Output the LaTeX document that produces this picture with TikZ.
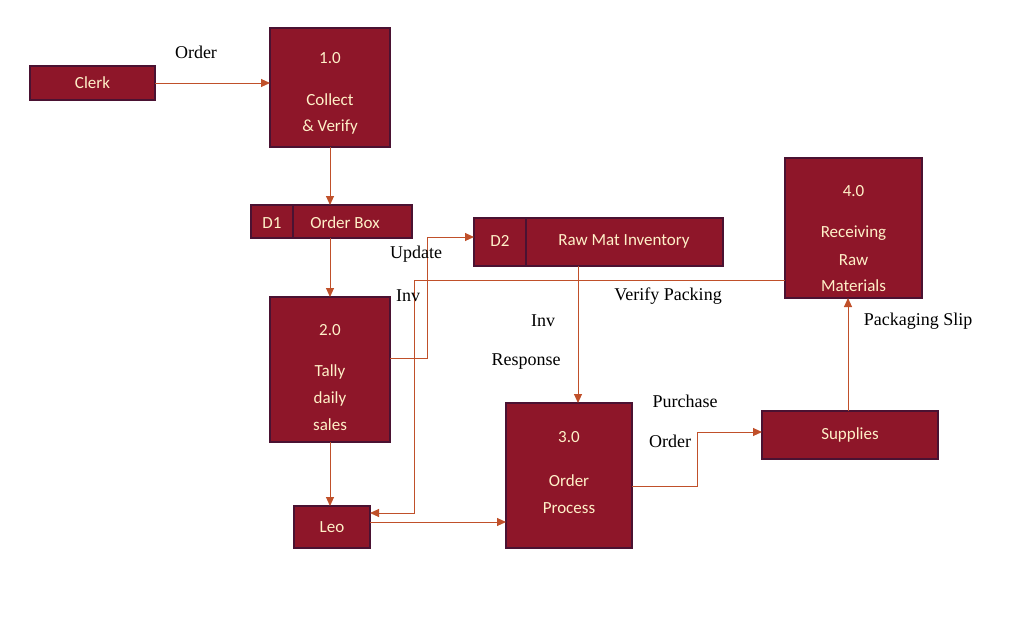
\documentclass[tikz,border=0pt]{standalone}
\usepackage{fontspec}
\setmainfont{Liberation Serif}
\newfontfamily\boxfont{Carlito}
\usetikzlibrary{shapes.misc,arrows.meta}
\definecolor{boxfill}{HTML}{8E1629}
\definecolor{boxline}{HTML}{4A1232}
\definecolor{boxtxt}{HTML}{FFF0C8}
\definecolor{arr}{HTML}{C0502A}
\begin{document}
\begin{tikzpicture}[x=1pt,y=-1pt,
  proc/.style={chamfered rectangle,chamfered rectangle corners={north west,north east},chamfered rectangle xsep=20pt,chamfered rectangle ysep=20pt,fill=boxfill,draw=boxline,line width=1.2pt,inner sep=0pt,outer sep=0pt},
  ent/.style={rectangle,fill=boxfill,draw=boxline,line width=1.2pt,inner sep=0pt,outer sep=0pt,text=boxtxt,font=\boxfont\fontsize{17}{20}\selectfont},
  btxt/.style={text=boxtxt,font=\boxfont\fontsize{17}{20}\selectfont,inner sep=0pt},
  lbl/.style={font=\fontsize{18}{21}\selectfont,inner sep=0pt},
  flow/.style={draw=arr,line width=1pt,-{Triangle[length=9pt,width=8pt]}}]
\useasboundingbox (0,0) rectangle (1024,635);
% processes
\node[proc,minimum width=120pt,minimum height=119pt] (p1) at (330,87.5) {};
\node[btxt] at (330,58) {1.0};
\node[btxt] at (330,100) {Collect};
\node[btxt] at (330,127) {\& Verify};
\node[proc,minimum width=120pt,minimum height=145pt] (p2) at (330,369.5) {};
\node[btxt] at (330,330) {2.0};
\node[btxt] at (330,372) {Tally};
\node[btxt] at (330,399) {daily};
\node[btxt] at (330,425) {sales};
\node[proc,minimum width=126pt,minimum height=145pt] (p3) at (569,475.5) {};
\node[btxt] at (569,437) {3.0};
\node[btxt] at (569,481) {Order};
\node[btxt] at (569,508) {Process};
\node[proc,minimum width=137pt,minimum height=140pt] (p4) at (853.5,228) {};
\node[btxt] at (853.5,191) {4.0};
\node[btxt] at (853.5,233) {Receiving};
\node[btxt] at (853.5,260) {Raw};
\node[btxt] at (853.5,286) {Materials};
% entities
\node[ent,minimum width=125pt,minimum height=34pt] (clerk) at (92.5,83) {Clerk};
\node[ent,minimum width=76pt,minimum height=42pt] (leo) at (332,527) {Leo};
\node[ent,minimum width=176pt,minimum height=48pt] (sup) at (850,435) {Supplies};
% stores
\node[ent,minimum width=161pt,minimum height=33pt] (d1) at (331.5,221.5) {};
\draw[boxline,line width=1.2pt] (293,205) -- (293,238);
\node[btxt] at (272,223) {D1};
\node[btxt] at (345,223) {Order Box};
\node[ent,minimum width=249pt,minimum height=48pt] (d2) at (598.5,242) {};
\draw[boxline,line width=1.2pt] (526,218) -- (526,266);
\node[btxt] at (500,241) {D2};
\node[btxt] at (624,241) {Raw Mat Inventory};
% flows
\draw[flow] (clerk.east) -- (p1.west |- clerk.east);
\draw[flow] (p1.south) -- (d1.north -| p1.south);
\draw[flow] (d1.south -| p2.north) -- (p2.north);
\draw[flow] (p2.south) -- (leo.north -| p2.south);
\draw[flow] (p2.east |- 0,358) -- (427,358) -- (427,237) -- (d2.west |- 0,237);
\draw[flow] (p4.west |- 0,280) -- (414,280) -- (414,513) -- (leo.east |- 0,513);
\draw[flow] (leo.east |- 0,522) -- (p3.west |- 0,522);
\draw[flow] (d2.south -| 578,0) -- (p3.north -| 578,0);
\draw[flow] (p3.east |- 0,486) -- (697,486) -- (697,432) -- (sup.west |- 0,432);
\draw[flow] (sup.north -| 848,0) -- (p4.south -| 848,0);
% labels
\node[lbl] (l1) at (196,52) {Order};
\node[lbl] (l2) at (416,254) {Update};
\node[lbl] (l3) at (408,296) {Inv};
\node[lbl] (l4) at (668,296) {Verify Packing};
\node[lbl] (l5) at (543,321) {Inv};
\node[lbl] (l6) at (526,362) {Response};
\node[lbl] (l7) at (685,401) {Purchase};
\node[lbl] (l8) at (670,441) {Order};
\node[lbl] (l9) at (918,321) {Packaging Slip};
\end{tikzpicture}
\end{document}
